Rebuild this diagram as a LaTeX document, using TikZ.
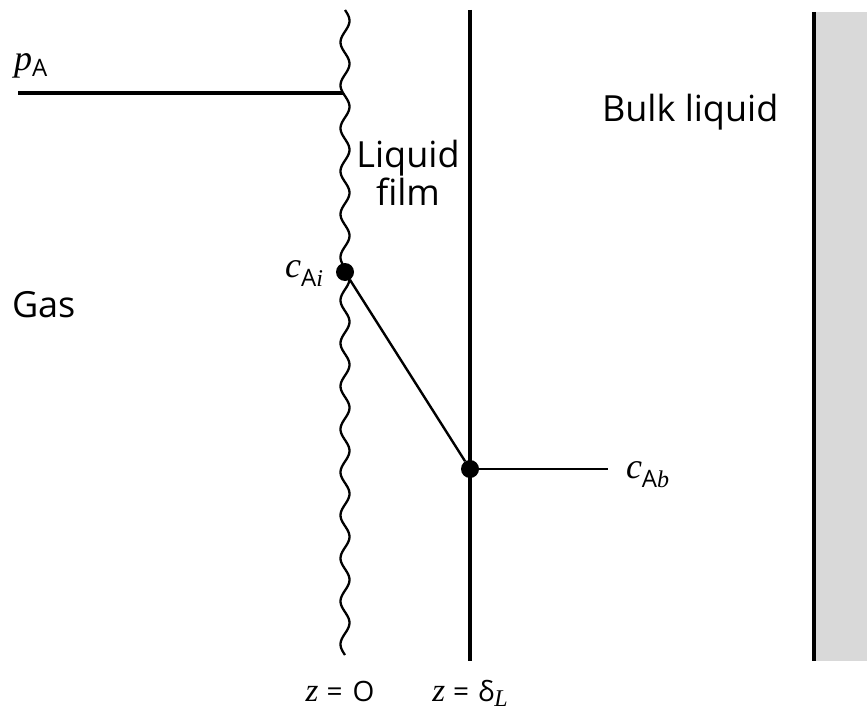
\documentclass[tikz,border=0pt]{standalone}
\usepackage{fontspec}
\setmainfont{Open Sans}
\newfontfamily\itfont{Liberation Serif}[ItalicFont=* Italic]
\definecolor{ink}{HTML}{000000}
\definecolor{bulkfill}{HTML}{D9D9D9}
\newcommand{\vr}[1]{{\itfont\itshape #1}}
\newcommand{\sbs}[2][9bp]{\raisebox{-#1}{\fontsize{24bp}{26bp}\selectfont #2}}
\tikzset{
  label/.style={font=\fontsize{36bp}{40bp}\selectfont,text=ink,inner sep=0pt,outer sep=0pt},
  zlabel/.style={font=\fontsize{28bp}{32bp}\selectfont,text=ink,inner sep=0pt,outer sep=0pt},
  wall/.style={draw=ink,line width=3.6bp},
  wire/.style={draw=ink,line width=2.4bp},
  thick wire/.style={draw=ink,line width=3.3bp},
  wavy/.style={draw=ink,line width=2.3bp,line join=round},
  dot/.style={circle,fill=ink,minimum size=18bp,inner sep=0pt}
}
\begin{document}
\begin{tikzpicture}[x=1bp,y=-1bp]
\path[use as bounding box] (0,0) rectangle (867,713);

% gas-liquid interface (wavy) and film boundary
\draw[wavy] plot[domain=10:655,samples=320,variable=\t] ({345+4.5*sin(8.372*(\t-10))},\t);
\coordinate (film-top) at (470,10);
\coordinate (film-bot) at (470,661);
\draw[thick wire] (film-top) -- (film-bot);

% bulk liquid
\fill[bulkfill] (815,12) rectangle (867,661);
\coordinate (bulk-top) at (814,12);
\coordinate (bulk-bot) at (814,661);
\draw[wall] (bulk-top) -- (bulk-bot);

% partial pressure on the gas side
\coordinate (p-start) at (18,93);
\coordinate (p-end) at (343,93);
\draw[thick wire] (p-start) -- (p-end);
\node[label,anchor=base west] (p-label) at (14,71) {\vr{p}\sbs[6bp]{A}};

% concentration profile through the film
\node[dot] (c-int) at (345,272) {};
\node[dot] (c-bulk) at (470,469) {};
\coordinate (c-end) at (608,469);
\draw[wire] (c-int) -- (c-bulk);
\draw[wire] (c-bulk) -- (c-end);
\node[label,anchor=base east] (c-int-label) at (323,277) {\vr{c}\sbs{A\vr{i}}};
\node[label,anchor=base west] (c-bulk-label) at (626,478) {\vr{c}\sbs{A\vr{b}}};

% region labels
\node[label,anchor=base west] (gas) at (12,317) {Gas};
\node[label,anchor=base] (film-1) at (408,168) {Liquid};
\node[label,anchor=base] (film-2) at (408,205) {film};
\node[label,anchor=base west] (bulk) at (602,122) {Bulk liquid};
\node[zlabel,anchor=base] (z-zero) at (340,701) {{\fontsize{33bp}{36bp}\selectfont\vr{z}}\hspace{8bp}=\hspace{10bp}O};
\node[zlabel,anchor=base] (z-delta) at (470,701) {{\fontsize{33bp}{36bp}\selectfont\vr{z}}\hspace{8bp}=\hspace{9bp}δ\sbs[5bp]{\vr{L}}};
\end{tikzpicture}
\end{document}
